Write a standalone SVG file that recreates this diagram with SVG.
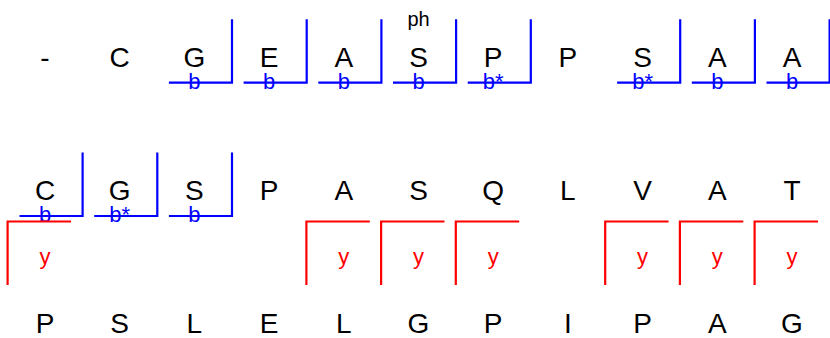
<svg xmlns="http://www.w3.org/2000/svg" xmlns:xlink="http://www.w3.org/1999/xlink" width="830" height="338" viewBox="0 0 830 338">
<style>
.aa{font-family:"Liberation Sans",Arial,sans-serif;font-size:28px;fill:#000;text-anchor:middle}
.ph{font-family:"Liberation Sans",Arial,sans-serif;font-size:20px;fill:#000;text-anchor:middle}
.bl{font-family:"Liberation Sans",Arial,sans-serif;font-size:22px;fill:#0000ff;text-anchor:middle}
.yl{font-family:"Liberation Sans",Arial,sans-serif;font-size:22px;fill:#ff0000;text-anchor:middle}
.bb{fill:none;stroke:#0000ff;stroke-width:2.2}
.rb{fill:none;stroke:#ff0000;stroke-width:2.2}
</style>
<defs>
<path id="bfrag" class="bb" d="M-25.5,0 H37.6 V-63.5"/>
<path id="yfrag" class="rb" d="M26,0 H-37.4 V63.5"/>
</defs>
<g id="fragment-marks">
</g>
<!-- Row 1 -->
<g id="r1c0" transform="translate(45,0)"><text class="aa" x="0" y="66.5">-</text></g>
<g id="r1c1" transform="translate(119.7,0)"><text class="aa" x="0" y="66.5">C</text></g>
<g id="r1c2" transform="translate(194.4,0)"><text class="aa" x="0" y="66.5">G</text><use xlink:href="#bfrag" y="82.7"/><text class="bl" x="0" y="89">b</text></g>
<g id="r1c3" transform="translate(269.1,0)"><text class="aa" x="0" y="66.5">E</text><use xlink:href="#bfrag" y="82.7"/><text class="bl" x="0" y="89">b</text></g>
<g id="r1c4" transform="translate(343.8,0)"><text class="aa" x="0" y="66.5">A</text><use xlink:href="#bfrag" y="82.7"/><text class="bl" x="0" y="89">b</text></g>
<g id="r1c5" transform="translate(418.5,0)"><text class="ph" x="0" y="26">ph</text><text class="aa" x="0" y="66.5">S</text><use xlink:href="#bfrag" y="82.7"/><text class="bl" x="0" y="89">b</text></g>
<g id="r1c6" transform="translate(493.2,0)"><text class="aa" x="0" y="66.5">P</text><use xlink:href="#bfrag" y="82.7"/><text class="bl" x="0" y="89">b*</text></g>
<g id="r1c7" transform="translate(567.9,0)"><text class="aa" x="0" y="66.5">P</text></g>
<g id="r1c8" transform="translate(642.6,0)"><text class="aa" x="0" y="66.5">S</text><use xlink:href="#bfrag" y="82.7"/><text class="bl" x="0" y="89">b*</text></g>
<g id="r1c9" transform="translate(717.3,0)"><text class="aa" x="0" y="66.5">A</text><use xlink:href="#bfrag" y="82.7"/><text class="bl" x="0" y="89">b</text></g>
<g id="r1c10" transform="translate(792,0)"><text class="aa" x="0" y="66.5">A</text><use xlink:href="#bfrag" y="82.7"/><text class="bl" x="0" y="89">b</text></g>
<!-- Row 2 -->
<g id="r2c0" transform="translate(45,0)"><text class="aa" x="0" y="199.8">C</text><use xlink:href="#bfrag" y="216"/><text class="bl" x="0" y="222.3">b</text><use xlink:href="#yfrag" y="221.5"/><text class="yl" x="0" y="263.5">y</text></g>
<g id="r2c1" transform="translate(119.7,0)"><text class="aa" x="0" y="199.8">G</text><use xlink:href="#bfrag" y="216"/><text class="bl" x="0" y="222.3">b*</text></g>
<g id="r2c2" transform="translate(194.4,0)"><text class="aa" x="0" y="199.8">S</text><use xlink:href="#bfrag" y="216"/><text class="bl" x="0" y="222.3">b</text></g>
<g id="r2c3" transform="translate(269.1,0)"><text class="aa" x="0" y="199.8">P</text></g>
<g id="r2c4" transform="translate(343.8,0)"><text class="aa" x="0" y="199.8">A</text><use xlink:href="#yfrag" y="221.5"/><text class="yl" x="0" y="263.5">y</text></g>
<g id="r2c5" transform="translate(418.5,0)"><text class="aa" x="0" y="199.8">S</text><use xlink:href="#yfrag" y="221.5"/><text class="yl" x="0" y="263.5">y</text></g>
<g id="r2c6" transform="translate(493.2,0)"><text class="aa" x="0" y="199.8">Q</text><use xlink:href="#yfrag" y="221.5"/><text class="yl" x="0" y="263.5">y</text></g>
<g id="r2c7" transform="translate(567.9,0)"><text class="aa" x="0" y="199.8">L</text></g>
<g id="r2c8" transform="translate(642.6,0)"><text class="aa" x="0" y="199.8">V</text><use xlink:href="#yfrag" y="221.5"/><text class="yl" x="0" y="263.5">y</text></g>
<g id="r2c9" transform="translate(717.3,0)"><text class="aa" x="0" y="199.8">A</text><use xlink:href="#yfrag" y="221.5"/><text class="yl" x="0" y="263.5">y</text></g>
<g id="r2c10" transform="translate(792,0)"><text class="aa" x="0" y="199.8">T</text><use xlink:href="#yfrag" y="221.5"/><text class="yl" x="0" y="263.5">y</text></g>
<!-- Row 3 -->
<g id="r3c0" transform="translate(45,0)"><text class="aa" x="0" y="333">P</text></g>
<g id="r3c1" transform="translate(119.7,0)"><text class="aa" x="0" y="333">S</text></g>
<g id="r3c2" transform="translate(194.4,0)"><text class="aa" x="0" y="333">L</text></g>
<g id="r3c3" transform="translate(269.1,0)"><text class="aa" x="0" y="333">E</text></g>
<g id="r3c4" transform="translate(343.8,0)"><text class="aa" x="0" y="333">L</text></g>
<g id="r3c5" transform="translate(418.5,0)"><text class="aa" x="0" y="333">G</text></g>
<g id="r3c6" transform="translate(493.2,0)"><text class="aa" x="0" y="333">P</text></g>
<g id="r3c7" transform="translate(567.9,0)"><text class="aa" x="0" y="333">I</text></g>
<g id="r3c8" transform="translate(642.6,0)"><text class="aa" x="0" y="333">P</text></g>
<g id="r3c9" transform="translate(717.3,0)"><text class="aa" x="0" y="333">A</text></g>
<g id="r3c10" transform="translate(792,0)"><text class="aa" x="0" y="333">G</text></g>
</svg>
